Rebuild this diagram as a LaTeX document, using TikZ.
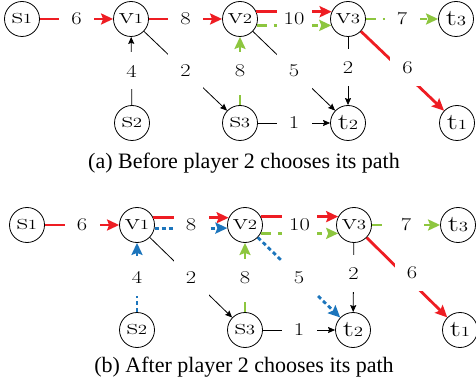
\documentclass[tikz,border=0pt]{standalone}
\usepackage{fontspec}
\usepackage{graphicx}
\newfontfamily\capfont{Liberation Serif}
\usetikzlibrary{arrows.meta,calc}

\definecolor{pathred}{HTML}{EE1D23}
\definecolor{pathgreen}{HTML}{8DC63F}
\definecolor{pathblue}{HTML}{1C75BC}

% vertex text: wide letter with a small index on the baseline
\newcommand\vlab[2]{\scalebox{1.35}[1]{#1{\fontsize{14}{14}\selectfont #2}}}
% edge weight text, set wide
\newcommand\wlab[1]{\scalebox{1.25}[1]{#1}}

\tikzset{
  vertex/.style={circle, draw, line width=0.8pt, minimum size=35pt, inner sep=0pt,
                 font=\fontsize{23}{23}\selectfont},
  weight/.style={fill=white, minimum width=35pt, minimum height=37pt, inner sep=0pt,
                 font=\fontsize{18}{18}\selectfont},
  bigtip/.style={-{Stealth[length=12pt,width=11pt,inset=2pt]}},
  plain/.style={line width=0.8pt, -{Stealth[length=7pt,width=6pt,inset=1pt]}},
  redpath/.style={bigtip, pathred, line width=2.8pt},
  greenpath/.style={bigtip, pathgreen, line width=2.8pt, dash pattern=on 10pt off 7pt},
  bluepath/.style={bigtip, pathblue, line width=2.8pt, dash pattern=on 4pt off 3pt},
  caption/.style={anchor=base, font=\capfont\fontsize{22}{22}\selectfont}
}

\begin{document}
\begin{tikzpicture}[x=1pt, y=1pt]
\useasboundingbox (0,0) rectangle (476,-387);

% ---------------- (a) before player 2 chooses ----------------
\node[vertex] (s1a) at (22,-19)  {\vlab{s}{1}};
\node[vertex] (v1a) at (131,-19) {\vlab{v}{1}};
\node[vertex] (v2a) at (240,-19) {\vlab{v}{2}};
\node[vertex] (v3a) at (348,-19) {\vlab{v}{3}};
\node[vertex] (t3a) at (456,-19) {\vlab{t}{3}};
\node[vertex] (s2a) at (132,-123) {\vlab{s}{2}};
\node[vertex] (s3a) at (240,-123) {\vlab{s}{3}};
\node[vertex] (t2a) at (348,-123) {\vlab{t}{2}};
\node[vertex] (t1a) at (457,-123) {\vlab{t}{1}};

\draw[redpath] (s1a) -- (v1a);
\draw[redpath] (v1a) -- (v2a);
\draw[redpath] (v2a.24) -- (v3a.156);
\draw[greenpath] (v2a.-21) -- (v3a.-159);
\draw[greenpath] (v3a) -- (t3a);
\draw[redpath] (v3a) -- (t1a);
\draw[greenpath] (s3a) -- (v2a);
\draw[plain] (s2a) -- (v1a);
\draw[plain] (v1a) -- (s3a);
\draw[plain] (v2a) -- (t2a);
\draw[plain] (v3a) -- (t2a);
\draw[plain] (s3a) -- (t2a);

\node[weight] (w1a) at ($(s1a)!0.5!(v1a)$) {\wlab{6}};
\node[weight] (w2a) at ($(v1a)!0.5!(v2a)$) {\wlab{8}};
\node[weight] (w3a) at ($(v2a)!0.5!(v3a)$) {\wlab{10}};
\node[weight] (w4a) at ($(v3a)!0.5!(t3a)$) {\wlab{7}};
\node[weight] (w5a) at ($(s2a)!0.5!(v1a)$) {\wlab{4}};
\node[weight] (w6a) at ($(v1a)!0.5!(s3a)$) {\wlab{2}};
\node[weight] (w7a) at ($(s3a)!0.5!(v2a)$) {\wlab{8}};
\node[weight] (w8a) at ($(v2a)!0.5!(t2a)$) {\wlab{5}};
\node[weight] (w9a) at ($(v3a)!0.47!(t2a)$) {\wlab{2}};
\node[weight] (w10a) at ($(v3a)!0.5!(t1a)+(5,3)$) {\wlab{6}};
\node[weight] (w11a) at ($(s3a)!0.5!(t2a)$) {\wlab{1}};

\node[caption] (capa) at (244,-169) {(a) Before player 2 chooses its path};

% ---------------- (b) after player 2 chooses ----------------
\node[vertex] (s1b) at (27,-225)  {\vlab{s}{1}};
\node[vertex] (v1b) at (137,-225) {\vlab{v}{1}};
\node[vertex] (v2b) at (245,-225) {\vlab{v}{2}};
\node[vertex] (v3b) at (354,-225) {\vlab{v}{3}};
\node[vertex] (t3b) at (458,-225) {\vlab{t}{3}};
\node[vertex] (s2b) at (137,-330) {\vlab{s}{2}};
\node[vertex] (s3b) at (245,-330) {\vlab{s}{3}};
\node[vertex] (t2b) at (353,-330) {\vlab{t}{2}};
\node[vertex] (t1b) at (460,-330) {\vlab{t}{1}};

\draw[redpath] (s1b) -- (v1b);
\draw[redpath] (v1b.24) -- (v2b.156);
\draw[bluepath] (v1b.-10) -- (v2b.-170);
\draw[redpath] (v2b.28) -- (v3b.152);
\draw[greenpath] (v2b.-28) -- (v3b.-152);
\draw[greenpath] (v3b) -- (t3b);
\draw[redpath] (v3b) -- (t1b);
\draw[greenpath] (s3b) -- (v2b);
\draw[bluepath] (s2b) -- (v1b);
\draw[bluepath] (v2b) -- (t2b);
\draw[plain] (v1b) -- (s3b);
\draw[plain] (v3b) -- (t2b);
\draw[plain] (s3b) -- (t2b);

\node[weight] (w1b) at ($(s1b)!0.5!(v1b)$) {\wlab{6}};
\node[weight] (w2b) at ($(v1b)!0.5!(v2b)$) {\wlab{8}};
\node[weight] (w3b) at ($(v2b)!0.5!(v3b)$) {\wlab{10}};
\node[weight] (w4b) at ($(v3b)!0.5!(t3b)$) {\wlab{7}};
\node[weight] (w5b) at ($(s2b)!0.5!(v1b)$) {\wlab{4}};
\node[weight] (w6b) at ($(v1b)!0.5!(s3b)$) {\wlab{2}};
\node[weight] (w7b) at ($(s3b)!0.5!(v2b)$) {\wlab{8}};
\node[weight] (w8b) at ($(v2b)!0.5!(t2b)$) {\wlab{5}};
\node[weight] (w9b) at ($(v3b)!0.46!(t2b)$) {\wlab{2}};
\node[weight] (w10b) at ($(v3b)!0.5!(t1b)+(5,5)$) {\wlab{6}};
\node[weight] (w11b) at ($(s3b)!0.5!(t2b)$) {\wlab{1}};

\node[caption] (capb) at (244,-372) {(b) After player 2 chooses its path};
\end{tikzpicture}
\end{document}
